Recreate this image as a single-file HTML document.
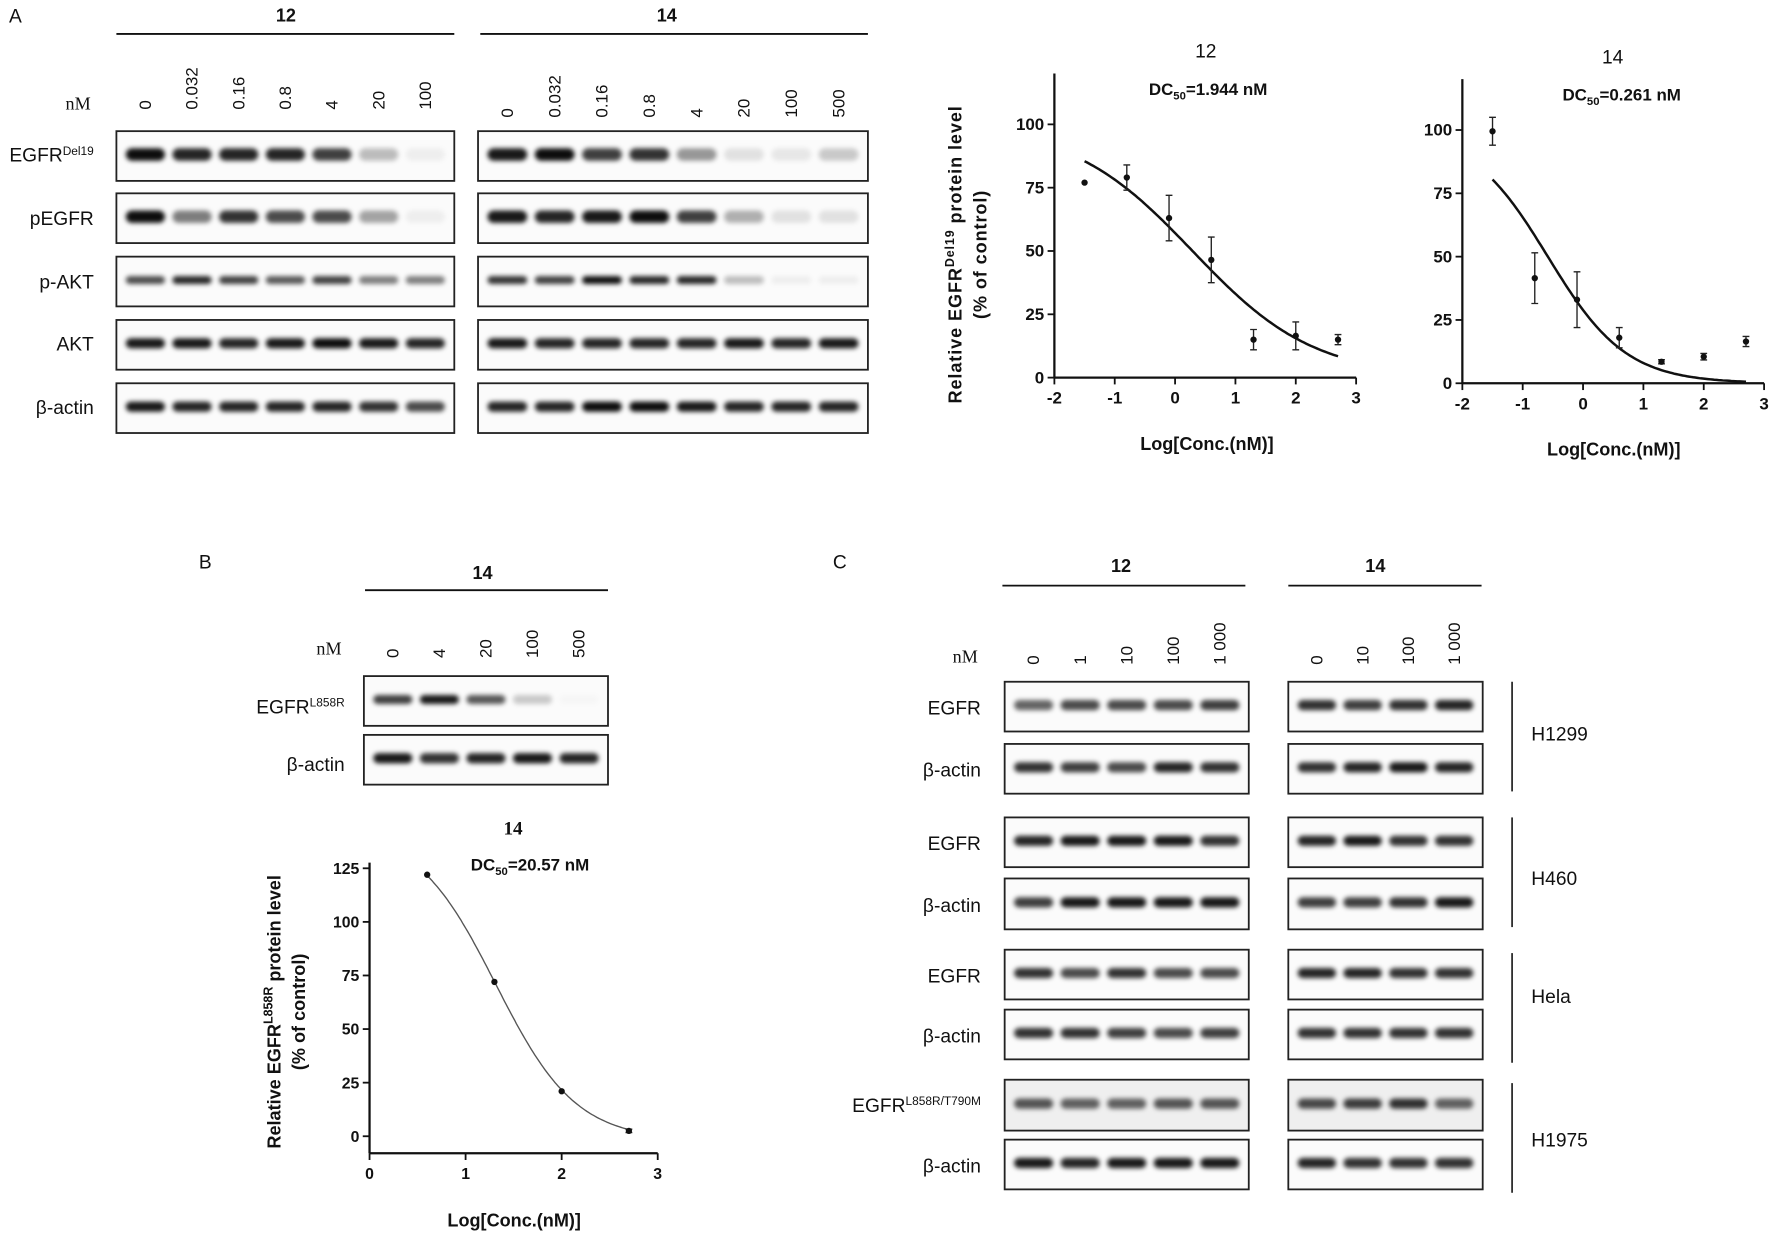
<!DOCTYPE html>
<html><head><meta charset="utf-8">
<style>
html,body{margin:0;padding:0;background:#fff;}
svg{display:block;}
text{font-family:"Liberation Sans",Arial,sans-serif;fill:#111;}
.serif{font-family:"Liberation Serif",serif;}
.b{font-weight:bold;}
</style></head>
<body>
<svg id="fig" width="1772" height="1238" viewBox="0 0 1568 1095" preserveAspectRatio="none" xmlns="http://www.w3.org/2000/svg">
<defs>
<filter id="blur" x="-20%" y="-100%" width="140%" height="300%"><feGaussianBlur stdDeviation="2.2"/></filter>
</defs>
<g id="static">
<text x="8" y="20" font-size="17">A</text>
<text x="176" y="503" font-size="17">B</text>
<text x="737" y="503" font-size="17">C</text>
</g>
<g id="blots"></g>
<g id="charts"></g>
</svg>
<script>
const NS="http://www.w3.org/2000/svg";
const svg=document.getElementById('fig');
const blotG=document.getElementById('blots');
const chartG=document.getElementById('charts');
function mk(tag,attrs,parent){const e=document.createElementNS(NS,tag);for(const k in attrs)e.setAttribute(k,attrs[k]);(parent||svg).appendChild(e);return e;}
function txt(x,y,s,size,parent,extra){const e=mk('text',Object.assign({x:x,y:y,'font-size':size},extra||{}),parent);e.textContent=s;return e;}

/* ---------- Blot data ---------- */
const aLanes12=["0","0.032","0.16","0.8","4","20","100"];
const aLanes14=["0","0.032","0.16","0.8","4","20","100","500"];
const aRows=["EGFR","pEGFR","p-AKT","AKT","β-actin"];
const a12EGFR=[0.95,0.85,0.85,0.85,0.75,0.25,0.05];
const a12pEGFR=[0.95,0.5,0.8,0.7,0.7,0.35,0.05];
const a12pAKT=[0.7,0.85,0.75,0.65,0.75,0.5,0.5];
const a12AKT=[0.9,0.9,0.85,0.9,0.95,0.9,0.85];
const a12actin=[0.9,0.85,0.85,0.85,0.85,0.8,0.7];
const a14EGFR=[0.9,0.95,0.75,0.8,0.4,0.1,0.08,0.2];
const a14pEGFR=[0.9,0.85,0.9,0.95,0.75,0.3,0.1,0.1];
const a14pAKT=[0.8,0.75,0.95,0.85,0.85,0.25,0.05,0.05];
const a14AKT=[0.9,0.85,0.85,0.85,0.85,0.9,0.85,0.9];
const a14actin=[0.85,0.85,0.95,0.95,0.9,0.85,0.85,0.85];
const bLanes=["0","4","20","100","500"];
const bEGFR=[0.75,0.9,0.65,0.2,0.02];
const bActin=[0.9,0.8,0.85,0.9,0.85];
const cLanes12=["0","1","10","100","1 000"];
const cLanes14=["0","10","100","1 000"];
const cCells=["H1299","H460","Hela","H1975"];
const c12EGFR=[[0.6,0.7,0.7,0.7,0.75],[0.85,0.9,0.9,0.9,0.8],[0.8,0.7,0.8,0.7,0.7],[0.65,0.6,0.6,0.65,0.65]];
const c12Actin=[[0.8,0.75,0.7,0.85,0.8],[0.75,0.9,0.9,0.9,0.9],[0.8,0.8,0.75,0.7,0.75],[0.9,0.85,0.9,0.9,0.9]];
const c14EGFR=[[0.8,0.75,0.8,0.85],[0.85,0.9,0.8,0.8],[0.85,0.85,0.8,0.8],[0.7,0.75,0.8,0.6]];
const c14Actin=[[0.8,0.85,0.9,0.85],[0.75,0.75,0.8,0.9],[0.8,0.8,0.8,0.8],[0.85,0.8,0.8,0.8]];

function blot(x0,x1,y0,y1,vals,bandH,name,bg){
  const g=mk('g',{},blotG);
  
  
  const r=mk('rect',{x:x0,y:y0,width:x1-x0,height:y1-y0,fill:bg||'#fbfbfb',stroke:'#222','stroke-width':1.6},g);
  
  
  const n=vals.length, w=(x1-x0-10)/n;
  vals.forEach((v,i)=>{
    const cx=x0+5+w*(i+0.5), cy=y0+(y1-y0)*0.47;
    const b=mk('rect',{x:cx-w*0.42,y:cy-bandH/2,width:w*0.84,height:bandH,rx:bandH/2,fill:'#000','fill-opacity':v,filter:'url(#blur)'},g);
    
    
  });
}
function laneLabels(xs,yBottom,labels,size){
  labels.forEach((s,i)=>{
    const t=txt(0,0,s,size,blotG,{transform:`translate(${xs[i]+5},${yBottom}) rotate(-90)`});
    
    
  });
}
function lanesX(x0,x1,n){const w=(x1-x0-10)/n;return Array.from({length:n},(_,i)=>x0+5+w*(i+0.5));}
function rowLabel(x,y,main,sup,size){
  const t=mk('text',{x:x,y:y,'font-size':size,'text-anchor':'end'},blotG);
  
  
  t.appendChild(document.createTextNode(main));
  if(sup){const s=mk('tspan',{'font-size':size*0.62,dy:-6},t);s.textContent=sup;}
}
function header(cx,y,label,x0,x1,ly){
  const t=txt(cx,y,label,16,blotG,{'text-anchor':'middle','font-weight':'bold'});
  
  
  const l=mk('line',{x1:x0,x2:x1,y1:ly,y2:ly,stroke:'#111','stroke-width':1.6},blotG);
  
  
}

/* Panel A blots */
header(253,19,"12",103,402,30);
header(590,19,"14",425,768,30);
const nmA=txt(58,97,"nM",16,blotG,{'class':'serif'});


laneLabels(lanesX(103,402,7),97,aLanes12,15);
laneLabels(lanesX(423,768,8),104,aLanes14,15);
const aRowY=[[116,160],[171,215],[227,271],[283,327],[339,383]];
const a12=[a12EGFR,a12pEGFR,a12pAKT,a12AKT,a12actin];
const a14=[a14EGFR,a14pEGFR,a14pAKT,a14AKT,a14actin];
const aBand=[11,11,7,9,9];
aRowY.forEach((r,i)=>{
  blot(103,402,r[0],r[1],a12[i],aBand[i],'blot-a12-row'+i);
  blot(423,768,r[0],r[1],a14[i],aBand[i],'blot-a14-row'+i);
});
rowLabel(83,143,"EGFR","Del19",17);
rowLabel(83,199,"pEGFR",null,17);
rowLabel(83,255,"p-AKT",null,17);
rowLabel(83,310,"AKT",null,17);
rowLabel(83,366,"β-actin",null,17);

/* Panel B blots */
header(427,512,"14",323,538,522);
const nmB=txt(280,579,"nM",16,blotG,{'class':'serif'});


laneLabels(lanesX(322,538,5),582,bLanes,15);
blot(322,538,598,642,bEGFR,8,'blot-b-egfr');
blot(322,538,650,694,bActin,9,'blot-b-actin');
rowLabel(305,631,"EGFR","L858R",17);
rowLabel(305,682,"β-actin",null,17);

/* Panel C blots */
header(992,506,"12",887,1102,518);
header(1217,506,"14",1140,1311,518);
const nmC=txt(843,586,"nM",16,blotG,{'class':'serif'});


laneLabels(lanesX(889,1105,5),588,cLanes12,15);
laneLabels(lanesX(1140,1312,4),588,cLanes14,15);
const cRowY=[[603,647,658,702],[723,767,777,822],[840,884,893,937],[955,1000,1008,1052]];
const cLabY=[649,777,881,1008];
const cBrk=[[603,700],[723,820],[843,940],[958,1055]];
cRowY.forEach((r,i)=>{
  const bg=i===3?'#efefef':'#fbfbfb';
  blot(889,1105,r[0],r[1],c12EGFR[i],9,'blot-c12-egfr-'+cCells[i],bg);
  blot(1140,1312,r[0],r[1],c14EGFR[i],9,'blot-c14-egfr-'+cCells[i],bg);
  blot(889,1105,r[2],r[3],c12Actin[i],9,'blot-c12-actin-'+cCells[i]);
  blot(1140,1312,r[2],r[3],c14Actin[i],9,'blot-c14-actin-'+cCells[i]);
  if(i<3) rowLabel(868,(r[0]+r[1])/2+7,"EGFR",null,17);
  else rowLabel(868,(r[0]+r[1])/2+6,"EGFR","L858R/T790M",17);
  rowLabel(868,(r[2]+r[3])/2+7,"β-actin",null,17);
  const l=mk('line',{x1:1338,x2:1338,y1:cBrk[i][0],y2:cBrk[i][1],stroke:'#111','stroke-width':1.4},blotG);
  
  
  const t=txt(1355,cLabY[i]+6,cCells[i],17,blotG);
  
  
});

/* ---------- Chart data ---------- */
const a1X=[-1.5,-0.8,-0.1,0.6,1.3,2,2.7];
const a1Y=[77,79,63,46.5,15,16.5,15];
const a1Err=[0,5,9,9,4,5.5,2];
const a1Fit=[100,0,0.289,0.43];   // top, bottom, logDC50, hill
const a2X=[-1.5,-0.8,-0.1,0.6,1.3,2,2.7];
const a2Y=[99.5,41.5,33,18,8.5,10.5,16.5];
const a2Err=[5.5,10,11,4,0.8,1.3,2];
const a2Fit=[100,0,-0.583,0.67];
const bX=[0.6,1.3,2,2.7];
const bY=[122,72,21,2.5];
const bErr=[0,0,0,0.8];
const bFit=[144,-2,1.313,1.04];
const aXTicks=[-2,-1,0,1,2,3];
const aYTicks=[0,25,50,75,100];
const bXTicks=[0,1,2,3];
const bYTicks=[0,25,50,75,100,125];

function chart(o){
  const g=mk('g',{},chartG);
  
  
  const sx=v=>o.px0+(v-o.xmin)/(o.xmax-o.xmin)*(o.px1-o.px0);
  const sy=v=>o.py0-(v-o.ymin)/(o.ymax-o.ymin)*(o.py0-o.py1);
  const ya=mk('line',{x1:o.px0,x2:o.px0,y1:o.axTop,y2:o.axBot,stroke:'#111','stroke-width':2},g);
  
  
  const xa=mk('line',{x1:o.px0,x2:o.px1,y1:o.axBot,y2:o.axBot,stroke:'#111','stroke-width':2},g);
  
  
  o.yTicks.forEach(v=>{
    const l=mk('line',{x1:o.px0-6,x2:o.px0,y1:sy(v),y2:sy(v),stroke:'#111','stroke-width':1.6},g);
    
    
    const t=txt(o.px0-9,sy(v)+5,String(v),o.tickSize,g,{'text-anchor':'end','font-weight':'bold'});
    
    
  });
  o.xTicks.forEach(v=>{
    const l=mk('line',{x1:sx(v),x2:sx(v),y1:o.axBot,y2:o.axBot+6,stroke:'#111','stroke-width':1.6},g);
    
    
    const t=txt(sx(v),o.axBot+23,String(v),o.tickSize,g,{'text-anchor':'middle','font-weight':'bold'});
    
    
  });
  const f=o.fit, pts=[];
  const xs0=o.xs[0], xs1=o.xs[o.xs.length-1];
  for(let i=0;i<=120;i++){const x=xs0+(xs1-xs0)*i/120;const y=f[1]+(f[0]-f[1])/(1+Math.pow(10,f[3]*(x-f[2])));pts.push(sx(x).toFixed(1)+','+sy(y).toFixed(1));}
  const c=mk('polyline',{points:pts.join(' '),fill:'none',stroke:o.curveColor,'stroke-width':o.curveW},g);
  
  
  o.xs.forEach((x,i)=>{
    const y=o.ys[i], e=o.err[i];
    if(e>0){
      const eb=mk('path',{d:`M${sx(x)},${sy(y-e)}V${sy(y+e)}M${sx(x)-3},${sy(y-e)}H${sx(x)+3}M${sx(x)-3},${sy(y+e)}H${sx(x)+3}`,stroke:'#222','stroke-width':1.2,fill:'none'},g);
      
      
    }
    const p=mk('circle',{cx:sx(x),cy:sy(y),r:2.8,fill:'#111'},g);
    
    
  });
  const tt=txt(o.titleX,o.titleY,o.title,o.titleSerif?17:17,g,{'text-anchor':'middle','font-weight':o.titleSerif?'bold':'normal','class':o.titleSerif?'serif':''});
  
  
  const dc=mk('text',{x:o.dcX,y:o.dcY,'font-size':15,'text-anchor':'middle','font-weight':'bold'},g);
  
  
  dc.appendChild(document.createTextNode('DC'));
  const sb=mk('tspan',{'font-size':10,dy:4},dc);sb.textContent='50';
  const rest=mk('tspan',{dy:-4},dc);rest.textContent='='+o.dc;
  const xl=txt(o.xlX,o.xlY,'Log[Conc.(nM)]',16,g,{'text-anchor':'middle','font-weight':'bold'});
  
  
  if(o.ylab){
    const yl=mk('text',{transform:`translate(${o.ylX},${o.ylY}) rotate(-90)`,'font-size':16,'text-anchor':'middle','font-weight':'bold','letter-spacing':o.ls},g);
    
    
    yl.appendChild(document.createTextNode('Relative EGFR'));
    const s=mk('tspan',{'font-size':11,dy:-7},yl);s.textContent=o.ysup;
    const r=mk('tspan',{dy:7},yl);r.textContent=' protein level';
    const yl2=mk('text',{transform:`translate(${o.ylX+22},${o.ylY}) rotate(-90)`,'font-size':16,'text-anchor':'middle','font-weight':'bold','letter-spacing':o.ls},g);
    
    
    yl2.textContent='(% of control)';
  }
}
chart({name:'chart-a-12',px0:933,px1:1200,xmin:-2,xmax:3,py0:334,py1:110,ymin:0,ymax:100,axTop:65,axBot:334,tickSize:15,
  xTicks:aXTicks,yTicks:aYTicks,xs:a1X,ys:a1Y,err:a1Err,fit:a1Fit,curveColor:'#111',curveW:2.2,
  title:'12',titleX:1067,titleY:51,dcX:1069,dcY:84,dc:'1.944 nM',xlX:1068,xlY:398,ylab:true,ylX:851,ylY:225,ysup:'Del19',ls:0.8});
chart({name:'chart-a-14',px0:1294,px1:1561,xmin:-2,xmax:3,py0:339,py1:115,ymin:0,ymax:100,axTop:70,axBot:339,tickSize:15,
  xTicks:aXTicks,yTicks:aYTicks,xs:a2X,ys:a2Y,err:a2Err,fit:a2Fit,curveColor:'#111',curveW:2.2,
  title:'14',titleX:1427,titleY:56,dcX:1435,dcY:89,dc:'0.261 nM',xlX:1428,xlY:403,ylab:false});
chart({name:'chart-b-14',px0:327,px1:582,xmin:0,xmax:3,py0:1005,py1:768,ymin:0,ymax:125,axTop:763,axBot:1020,tickSize:14,
  xTicks:bXTicks,yTicks:bYTicks,xs:bX,ys:bY,err:bErr,fit:bFit,curveColor:'#555',curveW:1.2,titleSerif:true,
  title:'14',titleX:454,titleY:738,dcX:469,dcY:770,dc:'20.57 nM',xlX:455,xlY:1085,ylab:true,ylX:248,ylY:895,ysup:'L858R',ls:0});
</script>
</body></html>
